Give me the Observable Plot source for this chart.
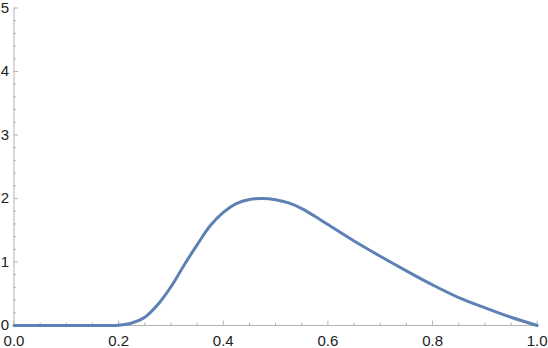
<!DOCTYPE html>
<html><head><meta charset="utf-8">
<script src="https://cdn.jsdelivr.net/npm/d3@7"></script>
<script src="https://cdn.jsdelivr.net/npm/@observablehq/plot@0.6"></script>
<style>body{margin:0;background:#fff}</style>
</head><body><div id="chart"></div>
<script>
const xValues = [0, 0.05, 0.10, 0.15, 0.18, 0.20, 0.225, 0.25, 0.275, 0.30, 0.325, 0.35, 0.375, 0.40, 0.425, 0.45, 0.475, 0.50, 0.525, 0.55, 0.575, 0.60, 0.65, 0.70, 0.75, 0.80, 0.85, 0.90, 0.95, 1.0];
const yValues = [0, 0, 0, 0, 0, 0.005, 0.04, 0.13, 0.33, 0.61, 0.95, 1.27, 1.57, 1.78, 1.92, 1.985, 2.00, 1.98, 1.93, 1.84, 1.72, 1.59, 1.33, 1.09, 0.86, 0.64, 0.44, 0.28, 0.13, 0];
const xMajorTicks = [0, 0.2, 0.4, 0.6, 0.8, 1.0];
const xMinorTicks = [0.05, 0.1, 0.15, 0.25, 0.3, 0.35, 0.45, 0.5, 0.55, 0.65, 0.7, 0.75, 0.85, 0.9, 0.95];
const yMajorTicks = [0, 1, 2, 3, 4, 5];
const yMinorTicks = [0.2, 0.4, 0.6, 0.8, 1.2, 1.4, 1.6, 1.8, 2.2, 2.4, 2.6, 2.8, 3.2, 3.4, 3.6, 3.8, 4.2, 4.4, 4.6, 4.8];

const data = xValues.map((x, i) => ({x, y: yValues[i]}));
const axisColor = "#b3b3b3";
const labelColor = "#222";

const chart = Plot.plot({
  width: 548,
  height: 348,
  marginLeft: 13.5,
  marginRight: 11.3,
  marginTop: 7.5,
  marginBottom: 23,
  style: {fontFamily: "'Liberation Sans', Arial, sans-serif", fontSize: "15px", background: "#fff"},
  x: {domain: [0, 1], axis: null},
  y: {domain: [0, 5], axis: null},
  marks: [
    Plot.ruleY([0], {stroke: axisColor, strokeWidth: 1}),
    Plot.ruleX([0], {stroke: axisColor, strokeWidth: 1}),
    Plot.axisX(xMinorTicks, {anchor: "bottom", tickSize: -2.5, tickFormat: () => "", stroke: axisColor, label: null}),
    Plot.axisX(xMajorTicks, {anchor: "bottom", tickSize: -4.5, tickFormat: () => "", stroke: axisColor, label: null}),
    Plot.axisX(xMajorTicks, {anchor: "bottom", tickSize: 0, tickPadding: 9.5, tickFormat: d3.format(".1f"), fill: labelColor, fontSize: 15, label: null}),
    Plot.axisY(yMinorTicks, {anchor: "left", tickSize: -2.5, tickFormat: () => "", stroke: axisColor, label: null}),
    Plot.axisY(yMajorTicks, {anchor: "left", tickSize: -4.5, tickFormat: () => "", stroke: axisColor, label: null}),
    Plot.axisY(yMajorTicks, {anchor: "left", tickSize: 0, tickPadding: 5, tickFormat: d3.format("d"), fill: labelColor, fontSize: 15, label: null}),
    Plot.line(data, {x: "x", y: "y", stroke: "#5e81b5", strokeWidth: 3, curve: "catmull-rom"})
  ]
});
document.getElementById("chart").appendChild(chart);
</script>
</body></html>
